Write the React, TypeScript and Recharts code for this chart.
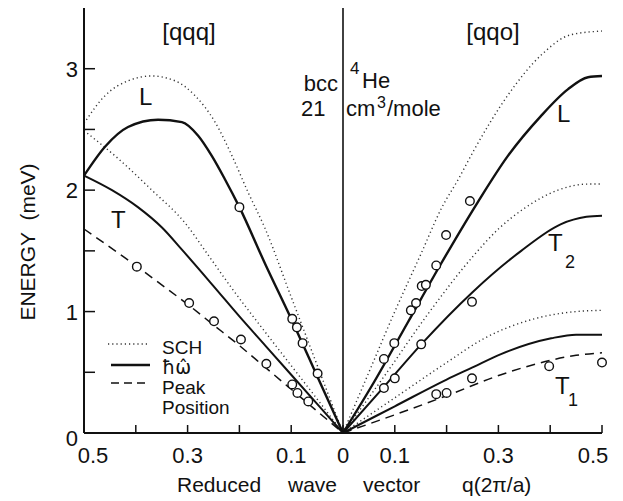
import React from 'react';
import { ComposedChart, Line, Scatter, XAxis, YAxis, ReferenceLine } from 'recharts';

type Pt = [number, number];

// [qqq] branch, drawn on the left (negative q) half
const qqqLsch: Pt[] = [[-0.5, 2.55], [-0.459, 2.78], [-0.415, 2.9], [-0.369, 2.94], [-0.324, 2.9], [-0.286, 2.78], [-0.247, 2.56], [-0.214, 2.28], [-0.183, 1.98], [-0.151, 1.69], [-0.1, 1.12], [-0.05, 0.56], [0, 0]];
const qqqLhw: Pt[] = [[-0.5, 2.12], [-0.459, 2.36], [-0.415, 2.52], [-0.357, 2.58], [-0.311, 2.56], [-0.28, 2.45], [-0.253, 2.28], [-0.228, 2.09], [-0.2, 1.86], [-0.15, 1.39], [-0.1, 0.94], [-0.05, 0.47], [0, 0]];
const qqqTsch: Pt[] = [[-0.5, 2.49], [-0.434, 2.26], [-0.369, 2.0], [-0.305, 1.73], [-0.261, 1.47], [-0.216, 1.2], [-0.15, 0.83], [-0.1, 0.555], [-0.05, 0.28], [0, 0]];
const qqqThw: Pt[] = [[-0.5, 2.12], [-0.446, 2.0], [-0.396, 1.86], [-0.349, 1.69], [-0.311, 1.51], [-0.25, 1.21], [-0.2, 0.96], [-0.15, 0.72], [-0.1, 0.48], [-0.05, 0.24], [0, 0]];
const qqqTpeak: Pt[] = [[-0.5, 1.68], [-0.42, 1.44], [-0.35, 1.22], [-0.3, 1.06], [-0.25, 0.89], [-0.2, 0.72], [-0.15, 0.54], [-0.1, 0.36], [-0.05, 0.18], [0, 0]];
const qqqLobs: Pt[] = [[-0.2, 1.86], [-0.098, 0.94], [-0.089, 0.87], [-0.078, 0.74], [-0.049, 0.49]];
const qqqTobs: Pt[] = [[-0.398, 1.37], [-0.297, 1.07], [-0.249, 0.92], [-0.197, 0.77], [-0.148, 0.57], [-0.098, 0.4], [-0.088, 0.33], [-0.067, 0.26]];

// [qqo] branch, right half
const qqoLsch: Pt[] = [[0, 0], [0.05, 0.5], [0.1, 1.0], [0.15, 1.47], [0.19, 1.85], [0.224, 2.1], [0.253, 2.33], [0.318, 2.78], [0.382, 3.11], [0.44, 3.28], [0.5, 3.31]];
const qqoLhw: Pt[] = [[0, 0], [0.06, 0.42], [0.125, 0.91], [0.19, 1.4], [0.26, 1.9], [0.318, 2.28], [0.382, 2.61], [0.434, 2.83], [0.473, 2.93], [0.5, 2.94]];
const qqoT2sch: Pt[] = [[0, 0], [0.08, 0.47], [0.164, 0.98], [0.25, 1.45], [0.3, 1.68], [0.35, 1.85], [0.415, 2.0], [0.473, 2.05], [0.5, 2.05]];
const qqoT2hw: Pt[] = [[0, 0], [0.079, 0.38], [0.151, 0.73], [0.25, 1.16], [0.344, 1.5], [0.421, 1.72], [0.47, 1.78], [0.5, 1.79]];
const qqoT1sch: Pt[] = [[0, 0], [0.1, 0.29], [0.2, 0.58], [0.273, 0.78], [0.369, 0.94], [0.45, 1.0], [0.5, 1.01]];
const qqoT1hw: Pt[] = [[0, 0], [0.1, 0.22], [0.2, 0.44], [0.25, 0.54], [0.305, 0.65], [0.402, 0.78], [0.45, 0.81], [0.5, 0.81]];
const qqoT1peak: Pt[] = [[0, 0], [0.1, 0.15], [0.208, 0.32], [0.305, 0.48], [0.402, 0.6], [0.45, 0.64], [0.5, 0.66]];
const qqoLobs: Pt[] = [[0.245, 1.91], [0.199, 1.63], [0.18, 1.38], [0.152, 1.21], [0.16, 1.22], [0.141, 1.07], [0.131, 1.01], [0.099, 0.74], [0.079, 0.61]];
const qqoT2obs: Pt[] = [[0.249, 1.08], [0.151, 0.73], [0.1, 0.45], [0.079, 0.37]];
const qqoT1obs: Pt[] = [[0.18, 0.32], [0.2, 0.33], [0.249, 0.45], [0.398, 0.55], [0.5, 0.58]];

const xTicks = [-0.5, -0.4, -0.3, -0.2, -0.1, 0, 0.1, 0.2, 0.3, 0.4, 0.5];
const xLabelTicks = [-0.5, -0.3, -0.1, 0, 0.1, 0.3, 0.5];
const topTicks = [-0.4, -0.3, -0.2, -0.1, 0.1, 0.2, 0.3, 0.4];
const yTicks = [0, 0.5, 1, 1.5, 2, 2.5, 3];
const yLabelTicks = [0, 1, 2, 3];

const FONT = '"Liberation Sans", Arial, sans-serif';
const INK = '#111';

const toXY = (pts: Pt[]) => pts.map(([x, y]) => ({ x, y }));

const XTick = (props: any) => {
  const { x, y, payload } = props;
  const v = payload.value;
  const show = xLabelTicks.some((t) => Math.abs(t - v) < 1e-6);
  const dx = v < -0.49 ? 9 : v > 0.49 ? -9 : 0;
  return (
    <g>
      <line x1={x} y1={y} x2={x} y2={y - 8} stroke={INK} strokeWidth={1.5} />
      {show && (
        <text x={x + dx} y={y + 30} textAnchor="middle" fontSize={22} fontFamily={FONT} fill={INK}>
          {String(Math.abs(v))}
        </text>
      )}
    </g>
  );
};

const YTick = (props: any) => {
  const { x, y, payload } = props;
  const v = payload.value;
  const show = yLabelTicks.includes(v);
  return (
    <g>
      <line x1={x} y1={y} x2={x + 11} y2={y} stroke={INK} strokeWidth={1.5} />
      {show && (
        <text x={x - 6} y={y + (v === 0 ? 13 : 8)} textAnchor="end" fontSize={22} fontFamily={FONT} fill={INK}>
          {v}
        </text>
      )}
    </g>
  );
};

const Circle = (p: any) => (
  <circle cx={p.cx} cy={p.cy} r={4.3} fill="#fff" stroke={INK} strokeWidth={1.4} />
);

const sch = { stroke: '#333', strokeWidth: 1.4, strokeDasharray: '1.2 3' };
const hw = { stroke: INK, strokeWidth: 2.4 };
const peak = { stroke: INK, strokeWidth: 1.5, strokeDasharray: '9 6' };

const curves: { pts: Pt[]; style: any }[] = [
  { pts: qqqLsch, style: sch },
  { pts: qqqTsch, style: sch },
  { pts: qqqLhw, style: hw },
  { pts: qqqThw, style: { ...hw, strokeWidth: 2 } },
  { pts: qqqTpeak, style: peak },
  { pts: qqoLsch, style: sch },
  { pts: qqoT2sch, style: sch },
  { pts: qqoT1sch, style: sch },
  { pts: qqoLhw, style: hw },
  { pts: qqoT2hw, style: { ...hw, strokeWidth: 2 } },
  { pts: qqoT1hw, style: { ...hw, strokeWidth: 2 } },
  { pts: qqoT1peak, style: peak },
];

const observed = [qqqLobs, qqqTobs, qqoLobs, qqoT2obs, qqoT1obs];

const txt = { fontFamily: FONT, fill: INK };

export default function App() {
  return (
    <div style={{ position: 'absolute', left: 0, top: 0, width: 623, height: 501, background: '#fff' }}>
      <ComposedChart width={623} height={501} margin={{ top: 8, right: 21, bottom: 0, left: 0 }}>
        <XAxis
          dataKey="x"
          type="number"
          domain={[-0.5, 0.5]}
          ticks={xTicks}
          interval={0}
          height={68}
          tickSize={0}
          tickMargin={0}
          tickLine={false}
          tick={<XTick />}
          axisLine={{ stroke: INK, strokeWidth: 2 }}
        />
        <XAxis
          xAxisId="top"
          orientation="top"
          mirror
          type="number"
          domain={[-0.5, 0.5]}
          ticks={topTicks}
          interval={0}
          height={0}
          tick={false}
          tickSize={8}
          tickLine={{ stroke: INK, strokeWidth: 1.5 }}
          axisLine={{ stroke: INK, strokeWidth: 2 }}
        />
        <YAxis
          type="number"
          domain={[0, 3.5]}
          ticks={yTicks}
          interval={0}
          width={84}
          tickSize={0}
          tickMargin={0}
          tickLine={false}
          tick={<YTick />}
          axisLine={{ stroke: INK, strokeWidth: 2 }}
        />
        <YAxis
          yAxisId="right"
          orientation="right"
          mirror
          type="number"
          domain={[0, 3.5]}
          ticks={yTicks}
          interval={0}
          width={0}
          tick={false}
          tickSize={8}
          tickLine={{ stroke: INK, strokeWidth: 1.5 }}
          axisLine={{ stroke: INK, strokeWidth: 2 }}
        />
        <ReferenceLine x={0} stroke={INK} strokeWidth={1.6} />
        {curves.map((c, i) => (
          <Line
            key={i}
            data={toXY(c.pts)}
            dataKey="y"
            type="monotone"
            dot={false}
            activeDot={false}
            isAnimationActive={false}
            {...c.style}
          />
        ))}
        {observed.map((o, i) => (
          <Scatter key={'o' + i} data={toXY(o)} dataKey="y" shape={<Circle />} isAnimationActive={false} />
        ))}
      </ComposedChart>
      <svg width={623} height={501} style={{ position: 'absolute', left: 0, top: 0, pointerEvents: 'none' }}>
        <text x={189} y={40} textAnchor="middle" fontSize={24} {...txt}>[qqq]</text>
        <text x={493} y={40} textAnchor="middle" fontSize={24} {...txt}>[qqo]</text>
        <text x={338} y={91} textAnchor="end" fontSize={22} {...txt}>bcc</text>
        <text x={350} y={74} fontSize={17} {...txt}>4</text>
        <text x={362} y={88} fontSize={22} {...txt}>He</text>
        <text x={301} y={116} fontSize={22} {...txt}>21</text>
        <text x={346} y={116} fontSize={22} {...txt}>cm</text>
        <text x={377} y={108} fontSize={16} {...txt}>3</text>
        <text x={387} y={116} fontSize={22} {...txt}>/mole</text>

        <text x={139} y={105} fontSize={24} {...txt}>L</text>
        <text x={111} y={228} fontSize={24} {...txt}>T</text>
        <text x={557} y={122} fontSize={24} {...txt}>L</text>
        <text x={548} y={251} fontSize={24} {...txt}>T</text>
        <text x={565} y={268} fontSize={18} {...txt}>2</text>
        <text x={555} y={394} fontSize={24} {...txt}>T</text>
        <text x={568} y={406} fontSize={18} {...txt}>1</text>

        <line x1={108} y1={344} x2={150} y2={344} {...sch} />
        <line x1={111} y1={365} x2={150} y2={365} {...hw} />
        <line x1={111} y1={383} x2={150} y2={383} {...peak} strokeDasharray="8 5" />
        <text x={162} y={354} fontSize={19} {...txt}>SCH</text>
        <text x={162} y={374} fontSize={19} {...txt} fontFamily='"DejaVu Sans", sans-serif'>{'\u0127\u03C9\u0302'}</text>
        <text x={162} y={394} fontSize={19} {...txt}>Peak</text>
        <text x={162} y={414} fontSize={19} {...txt}>Position</text>

        <text
          x={27}
          y={242}
          transform="rotate(-90 27 242)"
          textAnchor="middle"
          dominantBaseline="central"
          fontSize={21}
          style={{ whiteSpace: 'pre' }}
          {...txt}
        >
          {'ENERGY  (meV)'}
        </text>
        <text x={177} y={492} fontSize={21} {...txt}>Reduced</text>
        <text x={288} y={492} fontSize={21} {...txt}>wave</text>
        <text x={363} y={492} fontSize={21} {...txt}>vector</text>
        <text x={462} y={492} fontSize={21} {...txt}>q(2π/a)</text>
      </svg>
    </div>
  );
}
